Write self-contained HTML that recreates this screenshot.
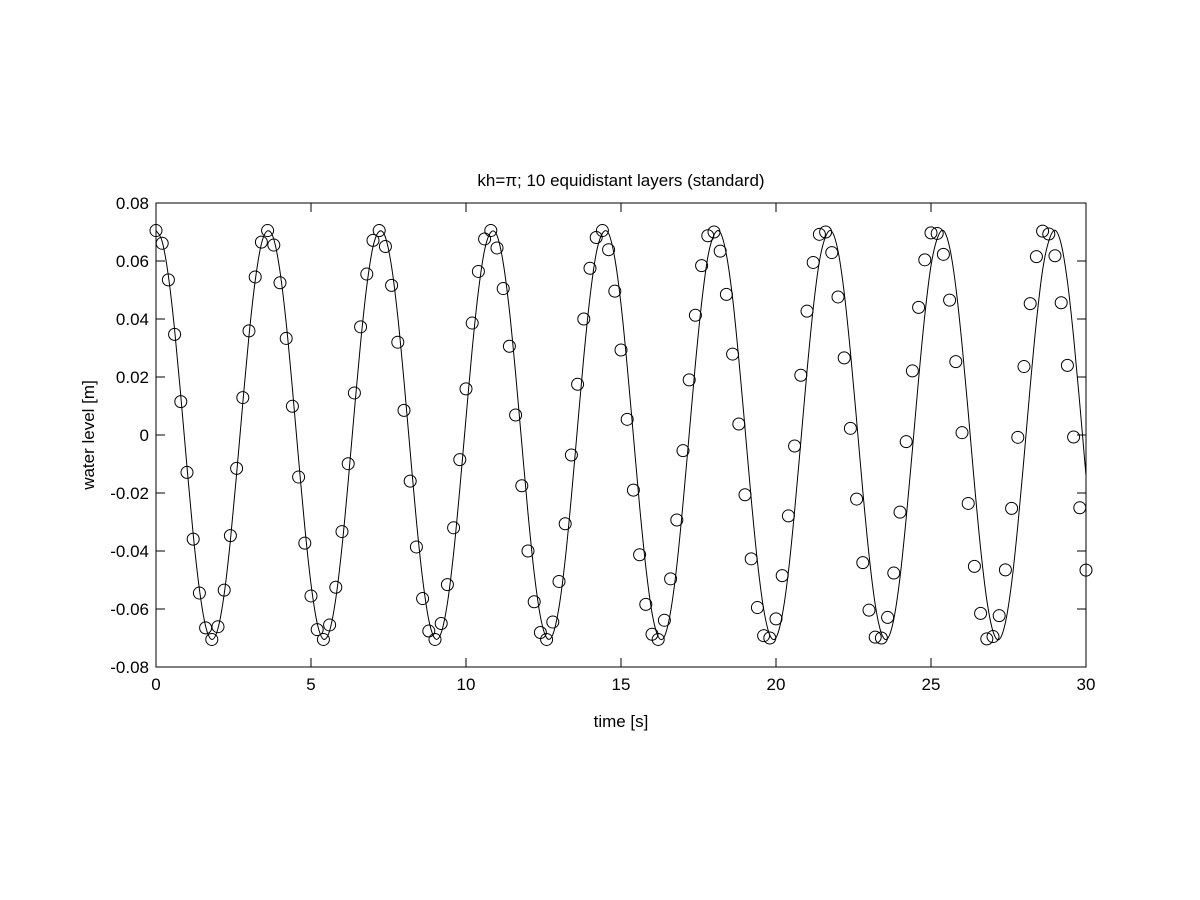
<!DOCTYPE html>
<html><head><meta charset="utf-8"><style>
html,body{margin:0;padding:0;background:#fff;}
svg{display:block;font-family:"Liberation Sans",sans-serif;}
</style></head><body>
<svg id="chart" width="1200" height="900" viewBox="0 0 1200 900" xmlns="http://www.w3.org/2000/svg">
<rect width="1200" height="900" fill="#fff"/>
<text x="621" y="186" text-anchor="middle" font-size="17">kh=π; 10 equidistant layers (standard)</text>
<text x="621" y="727" text-anchor="middle" font-size="17">time [s]</text>
<text transform="translate(94,435) rotate(-90)" text-anchor="middle" font-size="17">water level [m]</text>
<g id="ticks"></g>
<path id="line" fill="none" stroke="#000" stroke-width="1"/>
<g id="markers"></g>
<rect x="156" y="203" width="930" height="464" fill="none" stroke="#000" stroke-width="1"/>
</svg>
<script>
const xTicks = [0, 5, 10, 15, 20, 25, 30];
const yTicks = [-0.08, -0.06, -0.04, -0.02, 0, 0.02, 0.04, 0.06, 0.08];
const yTickLabels = ["-0.08", "-0.06", "-0.04", "-0.02", "0", "0.02", "0.04", "0.06", "0.08"];
const sampleStep = 0.2;
const markerValues = [
.0705,.0661,.0535,.0347,.0115,-.0129,-.0359,-.0545,-.0665,-.0705,-.0661,-.0535,-.0347,-.0115,.0129,.0359,.0545,.0665,
.0705,.0655,.0525,.0333,.0099,-.0145,-.0373,-.0555,-.0671,-.0705,-.0655,-.0525,-.0333,-.0099,.0145,.0373,.0555,.0671,
.0705,.0650,.0516,.0320,.0085,-.0159,-.0386,-.0564,-.0676,-.0705,-.0650,-.0516,-.0320,-.0085,.0159,.0386,.0564,.0676,
.0705,.0645,.0505,.0306,.0069,-.0175,-.0400,-.0575,-.0681,-.0705,-.0645,-.0505,-.0306,-.0069,.0175,.0400,.0575,.0681,
.0705,.0639,.0496,.0293,.0054,-.0190,-.0413,-.0584,-.0687,-.0705,-.0639,-.0496,-.0293,-.0054,.0190,.0413,.0584,.0687,
.0700,.0634,.0485,.0279,.0038,-.0206,-.0427,-.0595,-.0692,-.0700,-.0634,-.0485,-.0279,-.0038,.0206,.0427,.0595,.0692,
.0700,.0629,.0476,.0266,.0023,-.0221,-.0440,-.0604,-.0697,-.0700,-.0629,-.0476,-.0266,-.0023,.0221,.0440,.0604,.0697,
.0695,.0623,.0465,.0253,.0008,-.0236,-.0453,-.0615,-.0703,-.0695,-.0623,-.0465,-.0253,-.0008,.0236,.0453,.0615,.0703,
.0693,.0618,.0456,.0240,-.0007,-.0251,-.0466];
const lineValues = [
.0705,.0667,.0548,.0363,.0134,-.0110,-.0343,-.0532,-.0659,-.0705,-.0667,-.0548,-.0363,-.0134,.0110,.0343,.0532,.0659,
.0704,.0675,.0564,.0386,.0160,-.0084,-.0318,-.0514,-.0649,-.0704,-.0675,-.0564,-.0386,-.0160,.0084,.0318,.0514,.0649,
.0702,.0682,.0580,.0408,.0186,-.0058,-.0296,-.0496,-.0638,-.0702,-.0682,-.0580,-.0408,-.0186,.0058,.0296,.0496,.0638,
.0699,.0688,.0594,.0430,.0212,-.0030,-.0270,-.0476,-.0626,-.0699,-.0688,-.0594,-.0430,-.0212,.0030,.0270,.0476,.0626,
.0695,.0695,.0609,.0451,.0237,-.0003,-.0245,-.0455,-.0613,-.0695,-.0695,-.0609,-.0451,-.0237,.0003,.0245,.0455,.0613,
.0690,.0699,.0622,.0472,.0262,.0024,-.0220,-.0436,-.0599,-.0690,-.0699,-.0622,-.0472,-.0262,-.0024,.0220,.0436,.0599,
.0684,.0702,.0635,.0491,.0287,.0051,-.0193,-.0413,-.0584,-.0684,-.0702,-.0635,-.0491,-.0287,-.0051,.0193,.0413,.0584,
.0677,.0705,.0647,.0511,.0313,.0079,-.0167,-.0391,-.0569,-.0677,-.0705,-.0647,-.0511,-.0313,-.0079,.0167,.0391,.0569,
.0669,.0706,.0658,.0530,.0338,.0106,-.0140];

const L=156,R=1086,T=203,B=667;
const xs=t=>L+(t-0)/(30-0)*(R-L);
const ys=v=>B-(v+0.08)/0.16*(B-T);
const NS="http://www.w3.org/2000/svg";
const tg=document.getElementById('ticks');
function mk(tag,attrs,parent){const e=document.createElementNS(NS,tag);for(const k in attrs)e.setAttribute(k,attrs[k]);parent.appendChild(e);return e;}
const TL=9;
xTicks.forEach((t,i)=>{
  const x=xs(t);
  let e=mk('line',{x1:x,y1:B,x2:x,y2:B-TL,stroke:'#000'},tg);
  
  
  e=mk('line',{x1:x,y1:T,x2:x,y2:T+TL,stroke:'#000'},tg);
  
  
  const tx=mk('text',{x:x,y:B+23,'text-anchor':'middle','font-size':17},tg);
  tx.textContent=String(t);
  
  
});
yTicks.forEach((v,i)=>{
  const y=ys(v);
  let e=mk('line',{x1:L,y1:y,x2:L+TL,y2:y,stroke:'#000'},tg);
  
  
  e=mk('line',{x1:R,y1:y,x2:R-TL,y2:y,stroke:'#000'},tg);
  
  
  const tx=mk('text',{x:L-7,y:y+6,'text-anchor':'end','font-size':17},tg);
  tx.textContent=yTickLabels[i];
  
  
});
// line via Catmull-Rom spline
const pts=lineValues.map((v,i)=>[xs(i*sampleStep),ys(v)]);
let d='M'+pts[0][0].toFixed(2)+','+pts[0][1].toFixed(2);
for(let i=0;i<pts.length-1;i++){
  const p0=pts[Math.max(0,i-1)],p1=pts[i],p2=pts[i+1],p3=pts[Math.min(pts.length-1,i+2)];
  const c1=[p1[0]+(p2[0]-p0[0])/6,p1[1]+(p2[1]-p0[1])/6];
  const c2=[p2[0]-(p3[0]-p1[0])/6,p2[1]-(p3[1]-p1[1])/6];
  d+=' C'+c1[0].toFixed(2)+','+c1[1].toFixed(2)+' '+c2[0].toFixed(2)+','+c2[1].toFixed(2)+' '+p2[0].toFixed(2)+','+p2[1].toFixed(2);
}
document.getElementById('line').setAttribute('d',d);
const mg=document.getElementById('markers');
markerValues.forEach((v,i)=>{
  const c=mk('circle',{cx:xs(i*sampleStep),cy:ys(v),r:6,fill:'none',stroke:'#000','stroke-width':1},mg);
  
  
});
</script>
</body></html>
